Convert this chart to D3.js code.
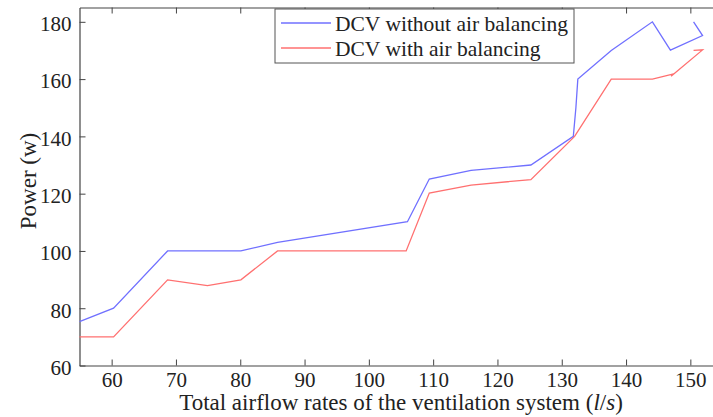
<!DOCTYPE html>
<html>
<head>
<meta charset="utf-8">
<script src="https://cdn.jsdelivr.net/npm/d3@7"></script>
<style>
    body { margin: 0; background: #fff; }
    svg text { font-family: "Liberation Serif", Tinos, "Times New Roman", Times, "DejaVu Serif", serif; }
</style>
</head>
<body>
<svg id="chart" width="713" height="417"></svg>
<script>
// values, in drawing order (the curves double back at the end)
const airflowBlue = [55, 60.3, 68.7, 80.1, 85.8, 106, 109.4, 115.9, 125.2, 131.8, 132.2, 132.5, 137.7, 144.1, 146.9, 151.9, 150.5];
const powerBlue   = [75.3, 80, 100, 100, 103, 110.2, 125.1, 128.1, 130, 140, 150, 160, 170, 180, 170.1, 175.2, 180];

const airflowRed = [55, 60.3, 68.7, 74.9, 80.1, 85.8, 105.8, 109.4, 115.9, 125.2, 132, 137.7, 144.1, 147.4, 147.0, 151.9, 150.5];
const powerRed   = [70, 70, 89.9, 87.9, 89.9, 100, 100, 120.2, 123, 124.9, 140, 160, 160, 161.8, 161.0, 170.2, 170];

const xTicks = [60, 70, 80, 90, 100, 110, 120, 130, 140, 150];
const yTicks = [60, 80, 100, 120, 140, 160, 180];

const seriesNames = ["DCV without air balancing", "DCV with air balancing"];
const seriesColors = ["#7070ff", "#ff7070"];

const svg = d3.select("#chart");
const margin = { top: 7.5, left: 79.5, bottom: 365.5 };
const serif = '"Liberation Serif", Tinos, "Times New Roman", Times, "DejaVu Serif", serif';

// x range runs past the right edge: the original figure is cropped there
const x = d3.scaleLinear().domain([55, 155]).range([margin.left, 722.5]);
const y = d3.scaleLinear().domain([60, 185]).range([margin.bottom, margin.top]);

const axisColor = "#444";

function styleAxis(g) {
    g.attr("font-family", serif);
    g.selectAll("path.domain").attr("stroke", axisColor).attr("stroke-width", 1.2);
    g.selectAll(".tick line").attr("stroke", axisColor).attr("stroke-width", 1);
    g.selectAll(".tick text")
        .attr("fill", "#222")
        .attr("font-family", serif)
        .style("font-size", "21px");
}

// bottom axis
svg.append("g")
    .attr("transform", `translate(0,${margin.bottom})`)
    .call(d3.axisBottom(x).tickValues(xTicks).tickSizeInner(-6).tickSizeOuter(0).tickPadding(7))
    .call(styleAxis)
    .selectAll(".tick text").attr("dy", "0.7em");

// top axis (ticks only, no labels)
svg.append("g")
    .attr("transform", `translate(0,${margin.top})`)
    .call(d3.axisTop(x).tickValues(xTicks).tickSizeInner(-6).tickSizeOuter(0).tickFormat(""))
    .call(styleAxis);

// left axis
svg.append("g")
    .attr("transform", `translate(${margin.left},0)`)
    .call(d3.axisLeft(y).tickValues(yTicks).tickSizeInner(-6).tickSizeOuter(0).tickPadding(8))
    .call(styleAxis)
    .selectAll(".tick text").attr("dy", "0.42em");

const line = d3.line()
    .x(d => x(d[0]))
    .y(d => y(d[1]));

const series = [
    d3.zip(airflowBlue, powerBlue),
    d3.zip(airflowRed, powerRed)
];

svg.append("g")
    .selectAll("path")
    .data(series)
    .enter().append("path")
    .attr("d", line)
    .attr("fill", "none")
    .attr("stroke", (d, i) => seriesColors[i])
    .attr("stroke-width", 1.3)
    .attr("stroke-linejoin", "miter");

// legend
const legend = svg.append("g").attr("transform", "translate(275,9)");
legend.append("rect")
    .attr("width", 299)
    .attr("height", 54)
    .attr("fill", "#fff")
    .attr("stroke", "#555")
    .attr("stroke-width", 1);

const legendItem = legend.selectAll(".legend-item")
    .data(seriesNames)
    .enter().append("g")
    .attr("class", "legend-item")
    .attr("transform", (d, i) => `translate(0,${14 + i * 25})`);

legendItem.append("line")
    .attr("x1", 6).attr("x2", 56)
    .attr("stroke", (d, i) => seriesColors[i])
    .attr("stroke-width", 1.5);

legendItem.append("text")
    .attr("x", 60)
    .attr("y", 7.5)
    .attr("fill", "#222")
    .attr("font-family", serif)
    .style("font-size", "21.5px")
    .text(d => d);

// axis titles
const xTitle = svg.append("text")
    .attr("x", 401)
    .attr("y", 410)
    .attr("text-anchor", "middle")
    .attr("fill", "#222")
    .attr("font-family", serif)
    .style("font-size", "23px");
xTitle.append("tspan").text("Total airflow rates of the ventilation system (");
xTitle.append("tspan").style("font-style", "italic").text("l");
xTitle.append("tspan").text("/");
xTitle.append("tspan").style("font-style", "italic").text("s");
xTitle.append("tspan").text(")");

svg.append("text")
    .attr("transform", "translate(36,181) rotate(-90)")
    .attr("text-anchor", "middle")
    .attr("fill", "#222")
    .attr("font-family", serif)
    .style("font-size", "23px")
    .text("Power (w)");
</script>
</body>
</html>
